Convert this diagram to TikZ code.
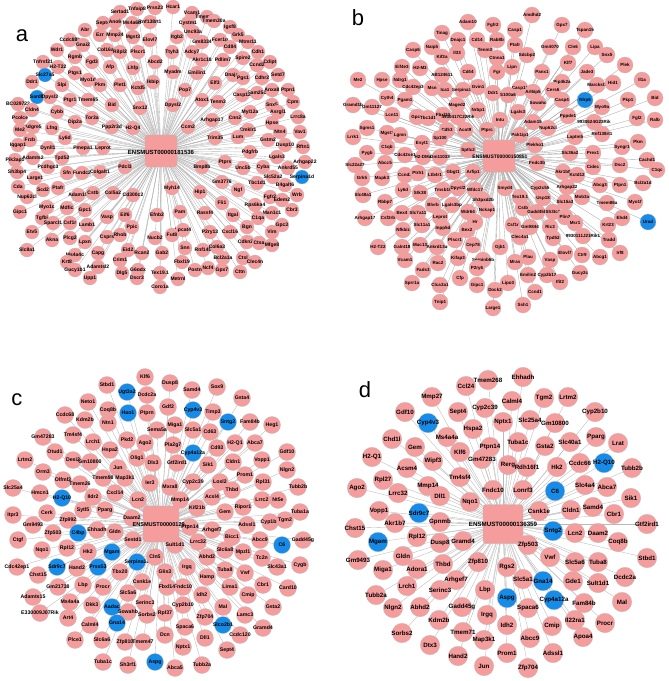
\documentclass[tikz,border=0pt]{standalone}
\usepackage{fontspec}
\setmainfont{Liberation Sans}
\definecolor{pk}{RGB}{245,157,157}
\definecolor{bl}{RGB}{22,140,232}
\definecolor{edgc}{RGB}{185,185,185}
\def\LA{%
120/12/Sertad1/pk,137/9/Tnfaip8/pk,155/8/Prss23/pk,173/7/Hcar1/pk,192/13/Vcam1/pk,207/17/Tmem86a/pk,
103/23/Sept4/pk,115/22/Ano6/pk,132/23/Ms4a6d/pk,150/22/Rnf138rt1/pk,188/23/Cystm1/pk,214/21/Tmem30a/pk,
230/27/Igsf8/pk,85/30/Abr/pk,193/32/Unc93a/pk,238/35/Grk5/pk,100/35/Ezr/pk,115/35/Mmp24/pk,133/37/Mgst3/pk,
150/40/Elovl7/pk,177/37/Itgb2/pk,70/40/Ccdc88b/pk,202/42/Gm8334/pk,220/40/Fcer1g/pk,248/42/Mtmr11/pk,
83/45/Gnai2/pk,230/47/Cd84/pk,57/50/Wdr1/pk,107/50/Col16a1/pk,120/52/Rilpl2/pk,138/52/Plscr1/pk,
172/52/Ttyh3/pk,192/52/Adcy7/pk,258/52/Cdh1/pk,75/57/Rgmb/pk,243/58/Spire2/pk,202/60/Akr1c18/pk,
223/60/Pdlim7/pk,92/62/Fgd3/pk,155/62/Abcd2/pk,270/62/Cdipt/pk,43/62/Tnfrsf21/pk,257/65/Ccnd2/pk,
58/67/H2-T22/pk,110/67/Afp/pk,133/68/Lhfp/pk,173/72/Myadm/pk,197/73/Emilin1/pk,45/75/Slc27a5/bl,
75/73/Ptgs1/pk,233/75/Dnaja4/pk,278/75/Setd7/pk,243/78/Pgs1/pk,262/78/Cdhr2/pk,88/80/Myo1d/pk,
32/82/Ddr1/pk,153/82/Ikbip/pk,215/83/Elf3/pk,62/85/Slpi/pk,100/85/Pkm/pk,120/85/Plet1/pk,138/88/Kctd5/pk,
185/90/Pop7/pk,272/90/Anxa8/pk,288/90/Ptpn1/pk,257/93/Fam25c/pk,242/95/Casp12/pk,37/97/Sardh/bl,
50/97/Dpysl3/pk,70/100/Ptgr1/pk,88/100/Tmem65/pk,202/100/Atox1/pk,218/102/Tenm3/pk,293/102/Cpm/pk,
18/104/BC029722/pk,112/105/Bid/pk,173/105/Dpysl2/pk,272/105/Snx5/pk,140/108/Snx12/pk,32/110/Cldn4/pk,
57/112/Cybb/pk,250/112/Myl12a/pk,278/112/Asrgl1/pk,298/117/Lrrc8a/pk,20/118/Pcolce/pk,92/118/Tor3a/pk,
235/118/Cnn2/pk,212/120/Arhgap17/pk,75/122/Dip2a/pk,272/123/Hpse/pk,112/127/Ppp2r3d/pk,33/127/Adgre5/pk,
188/127/Ccm2/pk,133/128/H2-Q4/pk,52/128/Lfng/pk,20/130/Me2/pk,248/130/Cmklr1/pk,280/132/Ntn4/pk,
300/132/Vav1/pk,65/138/Ly6d/pk,238/137/Lum/pk,215/138/Trim35/pk,30/140/Frzb/pk,268/140/Gstm2/pk,
18/145/Iqgap1/pk,285/145/Dusp10/pk,303/147/Rftn1/pk,48/148/Dynll1/pk,83/148/Pmepa1/pk,103/148/Leprot/pk,
250/152/Pdgfrb/pk,277/157/Lgals3/pk,33/158/Adamts2/pk,62/158/Tpd52/pk,15/160/Pik3ap1/pk,305/162/Arhgap22/pk,
225/162/Ptprs/pk,48/167/Pcdhgc3/pk,125/167/Pdcl3/pk,202/167/Bmp8b/pk,243/168/Unc5b/pk,263/167/Cyba/pk,
288/168/Ankrd55/pk,17/172/Sh3bp4/pk,67/173/Sfn/pk,82/173/Fundc2/pk,100/172/Colgalt1/pk,273/177/Slc52a2/pk,
302/177/Serpina1d/bl,35/178/Large1/pk,222/182/Gm3776/pk,257/183/Tbc1d1/pk,285/185/B4galt6/pk,297/195/Wrb/pk,
18/187/Cda/pk,172/188/Myh14/pk,58/188/Ptafr/pk,43/190/Scd2/pk,200/192/Hip1/pk,238/190/Ngf/pk,
78/195/Adam15/pk,93/193/Cstb/pk,113/193/Col5a2/pk,133/195/Cd300c2/pk,27/197/Nup62cl/pk,270/197/Fgfr2/pk,
282/200/Edem2/pk,222/203/Fli1/pk,255/205/Rps6ka4/pk,47/207/Myo1c/pk,67/208/Mdfic/pk,85/210/Gpc1/pk,
292/210/Cbr3/pk,20/212/Gipc1/pk,180/212/Pam/pk,205/213/Rassf4/pk,233/215/Itgal/pk,272/213/Man1c1/pk,
125/215/Eif6/pk,157/215/Efnb2/pk,107/217/Vasp/pk,42/218/Tgfbi/pk,258/218/C1qa/pk,53/223/Sparcl1/pk,
70/223/Csf1r/pk,87/225/Lamb1/pk,282/225/Gpc3/pk,132/227/Ppic/pk,247/227/Bgn/pk,183/230/Lpcat4/pk,
210/232/P2ry13/pk,230/232/Cxcl16/pk,272/232/Vim/pk,32/232/Etv5/pk,172/235/Fut8/pk,120/235/Rhob/pk,
107/237/Csprs/pk,52/240/Akna/pk,70/238/Plcg2/pk,85/242/Lpxn/pk,155/238/Nucb2/pk,247/242/Cdkn2c/pk,
259/243/Ctsa/pk,272/245/Mfge8/pk,185/248/Snn/pk,203/250/Rnf145/pk,217/247/Col6a3/pk,27/250/Slc8a1/pk,
128/250/Eid2/pk,75/255/Ms4a4c/pk,98/253/Capg/pk,142/253/Rcan2/pk,162/253/Gab2/pk,223/258/Bcl2a1a/pk,
243/258/Ctsl/pk,255/262/Clec4n/pk,120/260/Crim1/pk,67/262/Krt8/pk,182/262/Fbxl19/pk,98/267/Adamtsl2/pk,
208/268/Ncf4/pk,195/270/Postn/pk,222/270/Gpx7/pk,75/270/Gucy1b1/pk,138/270/G6pdx/pk,240/272/Cttn/pk,
122/273/Dlg5/pk,160/273/Tex19.1/pk,178/279/Metrnl/pk,90/278/Upp1/pk,137/278/Dscr3/pk,160/287/Coro1a/pk}
\def\LB{%
468/22/Adam10/pk,493/25/Fgfr2/pk,442/33/Tinag/pk,458/40/Dnajc1/pk,477/40/Cd14/pk,497/40/Rab8b/pk,
413/50/Casp6/pk,432/47/Naip5/pk,442/57/Kif3a/pk,457/53/Il33/pk,485/50/Tenm3/pk,497/58/Ctnna1/pk,
402/67/Eif4e3/pk,420/68/H2-M3/pk,442/75/AB124611/pk,468/72/Cd44/pk,497/72/Fgr/pk,358/80/Me2/pk,
382/80/Hpse/pk,400/80/Ndrg1/pk,413/87/Cdc42ep3/pk,432/88/Msn/pk,445/90/Ica1/pk,463/90/Serpina3g/pk,
478/87/Gvin1/pk,493/93/Ddr1/pk,387/98/Cyth4/pk,405/100/Pgam1/pk,353/105/Gramd1b/pk,372/107/Gm11127/pk,
457/105/Maged2/pk,478/110/Nrbp1/pk,392/115/Lcn11/pk,417/117/Gpc3/pk,428/118/Tbc1d1/pk,443/115/Fbxl10/pk,
458/117/4930417C22Rik/pk,500/120/Intu/pk,367/128/Sgms1/pk,387/133/Mgst1/pk,400/135/Lgmn/pk,447/130/Cd53/pk,
465/130/Acot9/pk,487/130/Ptprc/pk,353/137/Lrrk1/pk,440/138/Sp100/pk,422/143/Esyt1/pk,367/153/Pygb/pk,
387/147/C1qb/pk,405/155/Cdc42se1/pk,423/157/H2-DMa/pk,440/157/Gm11033/pk,468/150/Sptlc2/pk,
355/165/Slc22a27/pk,385/163/Abcc5/pk,
532/15/Amdhd2/pk,562/25/Gpx7/pk,585/30/Tspan15/pk,515/30/Casp1/pk,550/47/Gm4070/pk,573/47/Cln6/pk,
595/47/Lipa/pk,515/45/Ptafr/pk,527/55/Sdcbp2/pk,607/55/Snx5/pk,568/63/Klf7/pk,512/67/Lipn/pk,
542/72/Panx1/pk,625/65/Plek/pk,587/72/Jade3/pk,642/80/Il1a/pk,562/82/Pip4k2a/pk,597/85/Marcksl1/pk,
613/83/Hid1/pk,520/88/Casp12/pk,533/92/Arl6ip5/pk,553/90/Cers6/pk,508/95/S100a6/pk,585/100/Nlrp6/bl,
538/103/Sowahc/pk,562/100/Casp4/pk,602/107/Myo9a/pk,628/100/Pkp1/pk,655/98/Bid/pk,518/112/Lgals3/pk,
568/116/Pppde1/pk,594/122/9930624G23Rik/pk,533/122/Adam15/pk,548/128/Nup62cl/pk,637/118/Fgl2/pk,
655/120/Ralb/pk,602/134/Rnf138rt1/pk,520/135/Pak1ip1/pk,575/137/Laptm5/pk,638/142/Pkm/pk,
535/145/Plekho1/pk,622/147/Syngr1/pk,570/153/Slc36a2/pk,593/153/Prex1/pk,647/160/Cachd1/pk,
537/163/Fndc3b/pk,593/167/Cidec/pk,620/165/Dsc2/pk,657/170/C1qc/pk,
362/178/Grk5/pk,382/178/Mapk3/pk,405/175/Ccnd2/pk,418/173/Ptrh1/pk,435/175/Ltb4r1/pk,453/172/Gbgt1/pk,
473/172/Arfip1/pk,363/195/Slc48a1/pk,403/190/Ly6d/pk,420/193/Stk38/pk,443/190/Tmsb10/pk,458/188/Dpysl2/pk,
475/190/Wfdc17/pk,385/202/Rbbp7/pk,483/200/Sh3pxd2b/pk,402/213/Bex4/pk,365/218/Arhgap17/pk,388/218/Csf2rb/pk,
418/213/Slc7a11/pk,433/205/Blvrb/pk,452/205/Lgals3bp/pk,468/212/Wdr64/pk,487/210/Nckap1/pk,440/217/Leprot/pk,
422/225/Slc11a1/pk,475/222/Hr/pk,403/230/Nfkbiz/pk,443/228/Inpp5d/pk,467/230/Bex2/pk,378/247/H2-T22/pk,
402/247/Galnt18/pk,420/245/Muc13/pk,437/247/Ankrd13a/pk,455/240/Plscr1/pk,473/245/Cep78/pk,500/247/Gjb1/pk,
405/260/Vcam1/pk,458/258/Kifap3/pk,483/260/Serpinb6b/pk,423/270/Fads3/pk,438/263/Rac2/pk,477/268/P2ry6/pk,
412/283/Sprr1a/pk,440/285/Clca3a1/pk,460/278/Cfp/pk,477/285/Gipc1/pk,495/290/Dock2/pk,440/302/Tnip1/pk,
493/308/Large1/pk,
563/172/Akr1b8/pk,577/175/Kctd12/pk,600/185/Abcg3/pk,620/185/Ptpn1/pk,643/183/Bcl2a1d/pk,540/188/Cyp2c55/pk,
567/187/Arhgap22/pk,505/188/Smyd4/pk,520/197/Tex19.1/pk,543/198/Usp18/pk,565/202/Slc15a3/pk,582/197/Mob3a/pk,
607/203/Tmem86a/pk,635/202/Myo1f/pk,523/208/Cstb/pk,537/212/Gadd45b/pk,553/212/Sh3tc1/pk,565/217/Plin3/pk,
622/218/Ehd4/pk,648/222/Urad/bl,513/225/Csf1r/pk,530/227/Gm9844/pk,550/227/Ric3/pk,575/223/Msr1/pk,
608/225/Krt23/pk,520/237/Clec4a1/pk,553/238/Tpd52/pk,583/236/9930111J21Rik1/pk,609/240/Tradd/pk,
620/253/Irf8/pk,565/253/Elovl7/pk,582/255/Ctr9/pk,600/257/Abcg1/pk,515/262/Mras/pk,528/257/Plau/pk,
550/260/Vasp/pk,580/273/Gucy2c/pk,528/275/Emilin2/pk,547/275/Cyp2b13/pk,560/282/Ifit2/pk,508/283/Lipo3/pk,
535/292/Ccnd1/pk,523/305/Ssh1/pk}
\def\LC{%
145/377/Klf6/pk,170/383/Dusp8/pk,107/385/Stbd1/pk,127/392/Ugt3a2/bl,147/395/Dcdc2a/pk,88/402/Neto1/pk,
65/415/Ccdc68/pk,108/410/Coq8b/pk,128/413/Hao1/bl,147/413/Ptprn/pk,85/420/Kdm2b/pk,108/423/Ntn1/pk,
127/440/Pkd2/pk,157/430/Sema5a/pk,43/437/Gm47283/pk,73/435/Tm4sf4/pk,93/442/Lrch1/pk,110/450/Hspa2/pk,
145/443/Ago2/pk,55/452/Otud1/pk,73/460/Desi2/pk,90/462/Gm10800/pk,137/458/Olig1/pk,153/463/Dlx3/pk,
25/460/Lrtm2/pk,118/468/Jun/pk,43/472/Orm3/pk,63/480/Olfml3/pk,80/484/Tmem26/pk,103/478/Tmem98/pk,
125/478/Map3k1/pk,150/483/Ier3/pk,13/488/Slc25a4/pk,40/493/Hmcn1/pk,62/498/H2-Q10/bl,93/497/Ildr2/pk,
115/493/Cxcl14/pk,138/500/Lcn2/pk,
192/390/Samd4/pk,217/387/Sox9/pk,168/407/Gdf2/pk,193/410/Cyp4v3/bl,242/398/Gsta4/pk,213/412/Timp3/pk,
175/425/Miga1/pk,193/430/Slc5a1/pk,210/432/Cd63/pk,228/422/Sntg2/bl,250/422/Fam84b/pk,272/425/Heg1/pk,
173/445/Pla2g7/pk,193/453/Cyp4a12a/bl,217/448/Cd93/pk,235/443/H2-Q1/pk,255/443/Abca7/pk,287/452/Gdf10/pk,
177/463/Gtf2ird1/pk,233/462/Cldn1/pk,262/460/Vopp1/pk,208/465/Sik1/pk,287/470/Nlgn2/pk,245/475/Prom1/pk,
170/487/Mxra8/pk,193/482/Cyp2c39/pk,220/482/Loxl2/pk,263/482/Rpl31/pk,298/487/Tubb2b/pk,232/490/Thbd/pk,
180/500/Mmp14/pk,212/497/Acsl4/pk,262/500/Lrrc2/pk,278/500/Nt5e/pk,243/507/Ripor1/pk,197/508/Kif21b/pk,
13/515/Itpr3/pk,47/513/Cerk/pk,83/510/Sytl5/pk,105/510/Pparg/pk,33/525/Gm9493/pk,68/520/Zfp992/pk,
132/518/Daam2/pk,18/540/Ctgf/pk,53/533/Zfp503/pk,78/533/C4bp/bl,97/530/Ehhadh/pk,115/532/Gldn/pk,
42/550/Nqo1/pk,67/548/Rpl12/pk,88/552/Hk2/pk,112/552/Mgam/bl,133/540/Sestd1/pk,17/567/Cdc42ep1/pk,
38/575/Chst15/pk,57/567/Sdr9c7/bl,77/568/Hand2/pk,98/567/Prss53/bl,137/562/Serpina1c/bl,120/572/Tbx20/pk,
155/557/Cln5/pk,58/587/Gm21738/pk,83/585/Lbp/pk,103/587/Procr/pk,142/582/Csnk1e/pk,33/597/Adamts15/pk,
128/593/Slc5a6/pk,70/602/Ms4a4a/pk,92/605/Dkk3/pk,112/607/Aadac/bl,128/612/Sowahb/pk,145/603/Serinc3/pk,
40/613/E330009J07Rik/pk,68/618/Art4/pk,147/615/Sorbs2/pk,90/625/Calml4/pk,117/623/Gna14/bl,75/640/Plce1/pk,
102/640/Slc6a6/pk,125/642/Zfp810/pk,143/642/Tmem47/pk,103/662/Tuba1c/pk,128/665/Sh3rf1/pk,155/662/Aspg/bl,
225/512/Gem/pk,300/512/Tuba1a/pk,247/525/Adssl1/pk,270/522/Cyp1b1/pk,285/520/Tgm2/pk,190/527/Ptpn14/pk,
212/530/Arhgef7/pk,303/540/Gadd45g/pk,232/537/Bicc1/pk,260/540/Abcc9/pk,282/545/C6/bl,175/545/Sult1d1/pk,
198/542/Lrrc32/pk,243/552/Mpzl1/pk,225/550/Slc6a8/pk,262/558/Tc2n/pk,300/565/Cygb/pk,207/557/Abhd2/pk,
277/567/Slc43a1/pk,165/572/Glis3/pk,187/567/Irgq/pk,225/570/Tuba8/pk,245/573/Vwf/pk,207/577/Hamp/pk,
263/585/Cbr1/pk,288/588/Card10/pk,183/587/Fndc10/pk,230/587/Lima1/pk,167/587/Fbxl14/pk,248/595/Cmip/pk,
202/595/Idh2/pk,273/607/Gsta2/pk,183/605/Cyp2b10/pk,223/607/Mal/pk,245/615/Lamc3/pk,165/613/Rpl37/pk,
205/617/Zfp704/pk,223/625/Slco2b1/bl,263/628/Gramd4/pk,185/627/Spaca6/pk,240/635/Ccdc120/pk,165/635/Dcn/pk,
205/638/Dll1/pk,183/647/Nptx1/pk,227/650/Sept4/pk,175/668/Abca5/pk,202/665/Tubb2a/pk}
\def\LD{%
523/377/Ehhadh/pk,488/380/Tmem268/pk,466/386/Ccl24/pk,432/397/Mmp27/pk,512/401/Calml4/pk,544/398/Tgm2/pk,
568/397/Lrtm2/pk,485/408/Cyp2c39/pk,458/412/Sept4/pk,405/412/Gdf10/pk,428/423/Cyp4v3/bl,595/412/Cyp2b10/pk,
530/420/Slc25a4/pk,555/423/Gm10800/pk,503/422/Nptx1/pk,473/429/Hspa2/pk,447/437/Ms4a4a/pk,596/437/Pparg/pk,
392/439/Chd1l/pk,570/442/Slc40a1/pk,415/447/Gem/pk,490/447/Ptpn14/pk,518/442/Tuba1c/pk,545/446/Gsta2/pk,
460/452/Klf6/pk,618/443/Lrat/pk,372/457/H2-Q1/pk,433/461/Wipf3/pk,482/459/Gm47283/pk,508/465/Rerg/pk,
527/467/Rdh16f1/pk,557/467/Hk2/pk,580/463/Ccdc66/pk,604/463/H2-Q10/bl,632/468/Tubb2b/pk,407/468/Acsm4/pk,
460/477/Tm4sf4/pk,383/480/Rpl27/pk,428/486/Mmp14/pk,555/491/C6/bl,585/485/Slc4a4/pk,607/487/Abca7/pk,
493/490/Fndc10/pk,523/490/Lonrf3/pk,357/488/Ago2/pk,398/493/Lrrc32/pk,440/496/Dll1/pk,631/498/Sik1/pk,
470/502/Nqo1/pk,539/511/Csnk1e/pk,571/510/Cldn1/pk,593/507/Samd4/pk,614/514/Cbr1/pk,379/511/Vopp1/pk,
419/513/Sdr9c7/bl,440/522/Gpnmb/pk,395/523/Akr1b7/pk,355/528/Chst15/pk,647/524/Gtf2ird1/pk,553/531/Sntg2/bl,
575/533/Lcn2/pk,598/533/Daam2/pk,378/542/Mgam/bl,417/537/Rpl12/pk,440/543/Dusp8/pk,463/541/Gramd4/pk,
528/545/Zfp503/pk,618/542/Coq8b/pk,403/556/Gldn/pk,358/560/Gm9493/pk,550/557/Vwf/pk,647/558/Stbd1/pk,
575/562/Slc5a6/pk,598/562/Tuba8/pk,443/564/Thbd/pk,478/562/Zfp810/pk,507/567/Rgs2/pk,417/569/Adora1/pk,
383/570/Miga1/pk,625/577/Dcdc2a/pk,456/580/Arhgef7/pk,523/579/Slc5a1/pk,543/581/Gna14/bl,573/581/Gde1/pk,
598/583/Sult1d1/pk,407/586/Lrch1/pk,440/590/Serinc3/pk,485/590/Lbp/pk,376/595/Tubb2a/pk,507/598/Aspg/bl,
554/600/Cyp4a12a/bl,584/603/Fam84b/pk,622/602/Mal/pk,462/607/Gadd45g/pk,420/607/Abhd2/pk,393/608/Nlgn2/pk,
528/608/Spaca6/pk,487/615/Irgq/pk,439/620/Kdm2b/pk,575/620/Il22ra1/pk,605/623/Procr/pk,552/626/Cmip/pk,
507/625/Idh2/pk,402/633/Sorbs2/pk,463/632/Tmem71/pk,530/638/Abcc9/pk,583/637/Apoa4/pk,484/640/Map3k1/pk,
430/645/Dtx3/pk,553/653/Adssl1/pk,507/653/Prom1/pk,458/656/Hand2/pk,484/666/Jun/pk,528/668/Zfp704/pk}
\begin{document}
\begin{tikzpicture}[x=1pt,y=-1pt,
  nd/.style={circle,draw=gray!55,line width=0.25pt,inner sep=0pt},
  nda/.style={nd,minimum size=14pt},
  ndb/.style={nd,minimum size=16pt},
  ndc/.style={nd,minimum size=17pt},
  ndd/.style={nd,minimum size=19.5pt},
  la/.style={font=\bfseries\fontsize{5}{5}\selectfont,inner sep=0pt},
  lb/.style={font=\bfseries\fontsize{4.5}{4.5}\selectfont,inner sep=0pt},
  lc/.style={font=\bfseries\fontsize{5.2}{5.2}\selectfont,inner sep=0pt},
  ld/.style={font=\bfseries\fontsize{6.2}{6.2}\selectfont,inner sep=0pt},
  hub/.style={rounded corners=3pt,fill=pk,draw=gray!55,line width=0.25pt,inner sep=0pt},
  hlab/.style={inner sep=0pt,font=\bfseries\fontsize{6}{6}\selectfont},
  edge/.style={draw=edgc,line width=0.35pt},
  plab/.style={font=\fontsize{22}{22}\selectfont,inner sep=0pt}]
\useasboundingbox[fill=white] (0,0) rectangle (669,681);
% hub centres
\coordinate (hac) at (161,151);
\coordinate (hbc) at (499,156);
\coordinate (hcc) at (161,524);
\coordinate (hdc) at (503,524);
% connectors (drawn first so that nodes cover them)
\foreach [count=\i] \x/\y/\t/\c in \LA {\coordinate (pa\i) at (\x,\y); \draw[edge] (hac) -- (pa\i);}
\foreach [count=\i] \x/\y/\t/\c in \LB {\coordinate (pb\i) at (\x,\y); \draw[edge,draw=gray!65] (hbc) -- (pb\i);}
\foreach [count=\i] \x/\y/\t/\c in \LC {\coordinate (pc\i) at (\x,\y); \draw[edge] (hcc) -- (pc\i);}
\foreach [count=\i] \x/\y/\t/\c in \LD {\coordinate (pd\i) at (\x,\y); \draw[edge] (hdc) -- (pd\i);}
% hubs
\node[hub,minimum width=32pt,minimum height=32pt] (ha) at (hac) {};
\node[hub,minimum width=32pt,minimum height=32pt] (hb) at (hbc) {};
\node[hub,minimum width=36pt,minimum height=36pt] (hc) at (hcc) {};
\node[hub,minimum width=40pt,minimum height=39pt] (hd) at (hdc) {};
% nodes
\foreach [count=\i] \x/\y/\t/\c in \LA {\node[nda,fill=\c,label={[la]center:\t}] (a\i) at (pa\i) {};}
\foreach [count=\i] \x/\y/\t/\c in \LB {\node[ndb,fill=\c,label={[lb]center:\t}] (b\i) at (pb\i) {};}
\foreach [count=\i] \x/\y/\t/\c in \LC {\node[ndc,fill=\c,label={[lc]center:\t}] (c\i) at (pc\i) {};}
\foreach [count=\i] \x/\y/\t/\c in \LD {\node[ndd,fill=\c,label={[ld]center:\t}] (d\i) at (pd\i) {};}
% hub labels
\node[hlab] (hla) at (161,152) {ENSMUST00000181536};
\node[hlab,font=\bfseries\fontsize{5}{5}\selectfont] (hlb) at (500,157) {ENSMUST00000150851};
\node[hlab,font=\bfseries\fontsize{5.6}{5.6}\selectfont] (hlc) at (161,525) {ENSMUST00000129...};
\node[hlab,font=\bfseries\fontsize{6.2}{6.2}\selectfont] (hld) at (503,524) {ENSMUST00000136359};
% panel letters
\node[plab] (la) at (22,36) {a};
\node[plab] (lb) at (358,18) {b};
\node[plab] (lc) at (17,400) {c};
\node[plab] (ld) at (365,390) {d};
\end{tikzpicture}
\end{document}
